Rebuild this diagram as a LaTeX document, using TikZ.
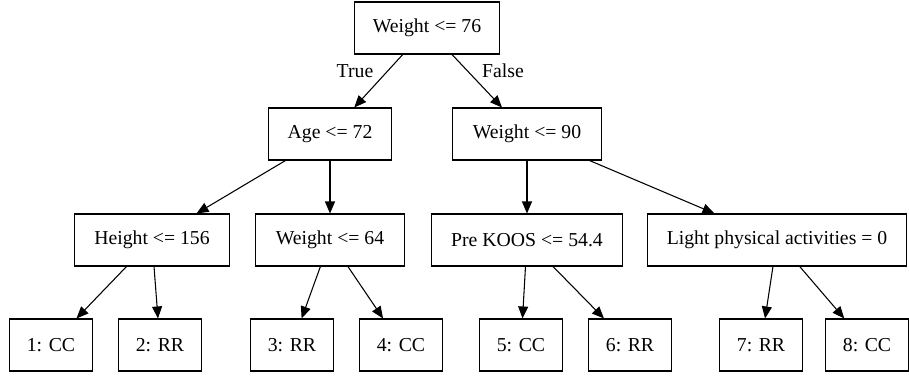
\documentclass[tikz,border=0pt]{standalone}
\usepackage{fontspec}
\setmainfont{Liberation Serif}
\usetikzlibrary{arrows.meta}

\tikzset{
  box/.style={draw, line width=0.8pt, minimum height=39pt, inner sep=0pt,
    font=\fontsize{14.8}{17}\selectfont},
  leaf/.style={box, minimum width=62pt},
  branch/.style={-{Triangle[length=9pt,width=7.5pt]}, line width=0.8pt},
}

\begin{document}
\begin{tikzpicture}[x=0.75pt, y=-0.75pt]
\useasboundingbox (0,0) rectangle (909,375);

% splits
\node [box, minimum width=109pt] (root) at (427,28)  {Weight <= 76};
\node [box, minimum width=92pt]  (age)  at (330,134) {Age <= 72};
\node [box, minimum width=112pt] (wnine) at (527,134) {Weight <= 90};
\node [box, minimum width=116pt] (height) at (152,240) {Height <= 156};
\node [box, minimum width=112pt] (wsix) at (330,240) {Weight <= 64};
\node [box, minimum width=143pt] (koos) at (527,240) {Pre KOOS <= 54.4};
\node [box, minimum width=194pt] (light) at (777,240) {Light physical activities = 0};

% leaves
\node [leaf] (l1) at (51,345)  {1: CC};
\node [leaf] (l2) at (160,345) {2: RR};
\node [leaf] (l3) at (292,345) {3: RR};
\node [leaf] (l4) at (401,345) {4: CC};
\node [leaf] (l5) at (521,345) {5: CC};
\node [leaf] (l6) at (630,345) {6: RR};
\node [leaf] (l7) at (761,345) {7: RR};
\node [leaf] (l8) at (867,345) {8: CC};

\draw [branch] (root) -- (age);
\draw [branch] (root) -- (wnine);

\draw [branch] (age) -- (height);
\draw [branch] (age) -- (wsix);
\draw [branch] (wnine) -- (koos);
\draw [branch] (wnine) -- (light);

\draw [branch] (height) -- (l1);
\draw [branch] (height) -- (l2);
\draw [branch] (wsix) -- (l3);
\draw [branch] (wsix) -- (l4);
\draw [branch] (koos) -- (l5);
\draw [branch] (koos) -- (l6);
\draw [branch] (light) -- (l7);
\draw [branch] (light) -- (l8);

\node [font=\fontsize{14.8}{17}\selectfont] (true) at (355,71) {True};
\node [font=\fontsize{14.8}{17}\selectfont] (false) at (503,71) {False};

\end{tikzpicture}
\end{document}
